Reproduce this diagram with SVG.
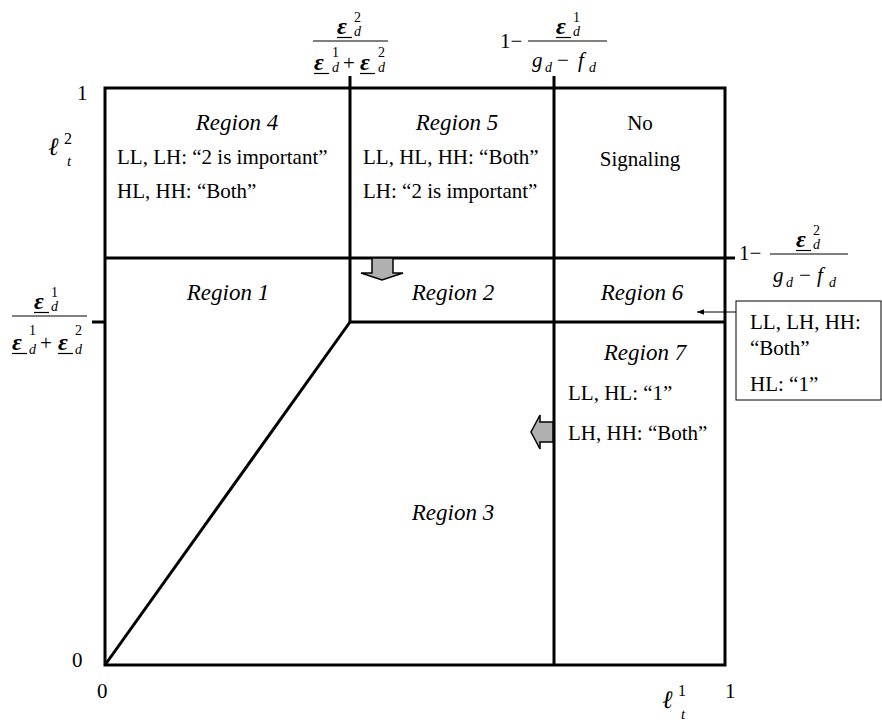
<svg xmlns="http://www.w3.org/2000/svg" width="882" height="726" viewBox="0 0 882 726">
<defs>
<style>
.t{font-family:"Liberation Serif","Times New Roman",serif;font-size:21px;fill:#000}
.it{font-style:italic}
.rg{font-size:23px}
.eps{font-family:"Liberation Serif","DejaVu Serif",serif;font-style:italic;font-weight:bold;font-size:24px}
.sm{font-family:"Liberation Serif","Times New Roman",serif;font-size:14px}
.ell{font-family:"DejaVu Serif","Liberation Serif",serif;font-style:italic;font-size:25px}
.thick{stroke:#000;stroke-width:3;fill:none}
.thin{stroke:#000;stroke-width:1.2;fill:none}
.gray{fill:#b0b0b0;stroke:#000;stroke-width:1.5}
</style>
<marker id="ah" viewBox="0 0 10 10" refX="10" refY="5" markerWidth="7" markerHeight="7" orient="auto-start-reverse">
<path d="M0,1 L10,5 L0,9 z" fill="#000"/>
</marker>
</defs>
<rect width="882" height="726" fill="#fff"/>

<g id="connectors">
<rect x="105" y="88" width="620" height="577" class="thick"/>
<line x1="350" y1="76" x2="350" y2="322" class="thick"/>
<line x1="554" y1="76" x2="554" y2="665" class="thick"/>
<line x1="105" y1="258" x2="735" y2="258" class="thick"/>
<line x1="350" y1="322" x2="725" y2="322" class="thick"/>
<line x1="92" y1="322" x2="105" y2="322" class="thick"/>
<line x1="105" y1="665" x2="350" y2="322" class="thick"/>
<line x1="736" y1="312" x2="697" y2="312" stroke="#000" stroke-width="1" marker-end="url(#ah)"/>
<path class="gray" d="M372,258 L393,258 L393,273 L403,273 L382,280 L361,273 L372,273 Z"/>
<path class="gray" d="M553,422 L553,442 L540,442 L540,449 L531,432 L540,415 L540,422 Z"/>
</g>

<g id="axis-labels">
<text class="t" x="77" y="100">1</text>
<text class="t" x="72" y="667">0</text>
<text class="t" x="97" y="698">0</text>
<text class="t" x="725" y="698">1</text>
<text class="ell" x="48" y="155">ℓ</text>
<text class="sm" x="64" y="144" style="font-size:16px">2</text>
<text class="sm it" x="67" y="166" style="font-size:15px">t</text>
<text class="ell" x="662" y="708">ℓ</text>
<text class="sm" x="678" y="696" style="font-size:16px">1</text>
<text class="sm it" x="681" y="719" style="font-size:15px">t</text>
</g>

<g id="frac-top-left">
<text class="eps" x="337" y="34">ε</text>
<line x1="337" y1="37.5" x2="352" y2="37.5" class="thin"/>
<text class="sm" x="354" y="22">2</text>
<text class="sm it" x="354" y="36">d</text>
<line x1="313" y1="41" x2="388" y2="41" class="thin"/>
<text class="eps" x="314" y="70">ε</text>
<line x1="314" y1="73.5" x2="329" y2="73.5" class="thin"/>
<text class="sm" x="332" y="57">1</text>
<text class="sm it" x="332" y="72">d</text>
<text class="t" x="343" y="70">+</text>
<text class="eps" x="360" y="70">ε</text>
<line x1="360" y1="73.5" x2="375" y2="73.5" class="thin"/>
<text class="sm" x="378" y="57">2</text>
<text class="sm it" x="378" y="72">d</text>
</g>

<g id="frac-top-right">
<text class="t" x="500" y="48">1−</text>
<text class="eps" x="556" y="34">ε</text>
<line x1="556" y1="37.5" x2="571" y2="37.5" class="thin"/>
<text class="sm" x="573" y="22">1</text>
<text class="sm it" x="573" y="36">d</text>
<line x1="528" y1="41" x2="607" y2="41" class="thin"/>
<text class="t it" x="532" y="67">g</text>
<text class="sm it" x="545" y="72">d</text>
<text class="t" x="557" y="67">−</text>
<text class="t it" x="578" y="67">f</text>
<text class="sm it" x="589" y="72">d</text>
</g>

<g id="frac-right">
<text class="t" x="739" y="260">1−</text>
<text class="eps" x="796" y="247">ε</text>
<line x1="796" y1="250.5" x2="811" y2="250.5" class="thin"/>
<text class="sm" x="813" y="235">2</text>
<text class="sm it" x="813" y="249">d</text>
<line x1="770" y1="254" x2="848" y2="254" class="thin"/>
<text class="t it" x="773" y="282">g</text>
<text class="sm it" x="786" y="287">d</text>
<text class="t" x="799" y="282">−</text>
<text class="t it" x="817" y="282">f</text>
<text class="sm it" x="829" y="287">d</text>
</g>

<g id="frac-left">
<text class="eps" x="34" y="309">ε</text>
<line x1="34" y1="312.5" x2="49" y2="312.5" class="thin"/>
<text class="sm" x="51" y="297">1</text>
<text class="sm it" x="51" y="311">d</text>
<line x1="12" y1="316" x2="87" y2="316" class="thin"/>
<text class="eps" x="12" y="350">ε</text>
<line x1="12" y1="353.5" x2="27" y2="353.5" class="thin"/>
<text class="sm" x="29" y="335">1</text>
<text class="sm it" x="29" y="354">d</text>
<text class="t" x="40" y="350">+</text>
<text class="eps" x="58" y="350">ε</text>
<line x1="58" y1="353.5" x2="73" y2="353.5" class="thin"/>
<text class="sm" x="75" y="335">2</text>
<text class="sm it" x="75" y="354">d</text>
</g>

<g id="region4">
<text class="t it rg" x="237" y="130" text-anchor="middle">Region 4</text>
<text class="t" x="117" y="164">LL, LH: “2 is important”</text>
<text class="t" x="117" y="198">HL, HH: “Both”</text>
</g>
<g id="region5">
<text class="t it rg" x="457" y="130" text-anchor="middle">Region 5</text>
<text class="t" x="363" y="164">LL, HL, HH: “Both”</text>
<text class="t" x="363" y="198">LH: “2 is important”</text>
</g>
<g id="no-signaling">
<text class="t" x="640" y="130" text-anchor="middle">No</text>
<text class="t" x="640" y="166" text-anchor="middle">Signaling</text>
</g>
<g id="region1"><text class="t it rg" x="228" y="300" text-anchor="middle">Region 1</text></g>
<g id="region2"><text class="t it rg" x="453" y="300" text-anchor="middle">Region 2</text></g>
<g id="region6"><text class="t it rg" x="642" y="300" text-anchor="middle">Region 6</text></g>
<g id="region7">
<text class="t it rg" x="645" y="360" text-anchor="middle">Region 7</text>
<text class="t" x="568" y="400">LL, HL: “1”</text>
<text class="t" x="568" y="440">LH, HH: “Both”</text>
</g>
<g id="region3"><text class="t it rg" x="453" y="520" text-anchor="middle">Region 3</text></g>
<g id="note-box">
<rect x="736" y="301" width="145" height="99" fill="#fff" stroke="#000" stroke-width="1"/>
<text class="t" x="750" y="329">LL, LH, HH:</text>
<text class="t" x="750" y="355">“Both”</text>
<text class="t" x="750" y="391">HL: “1”</text>
</g>
</svg>
